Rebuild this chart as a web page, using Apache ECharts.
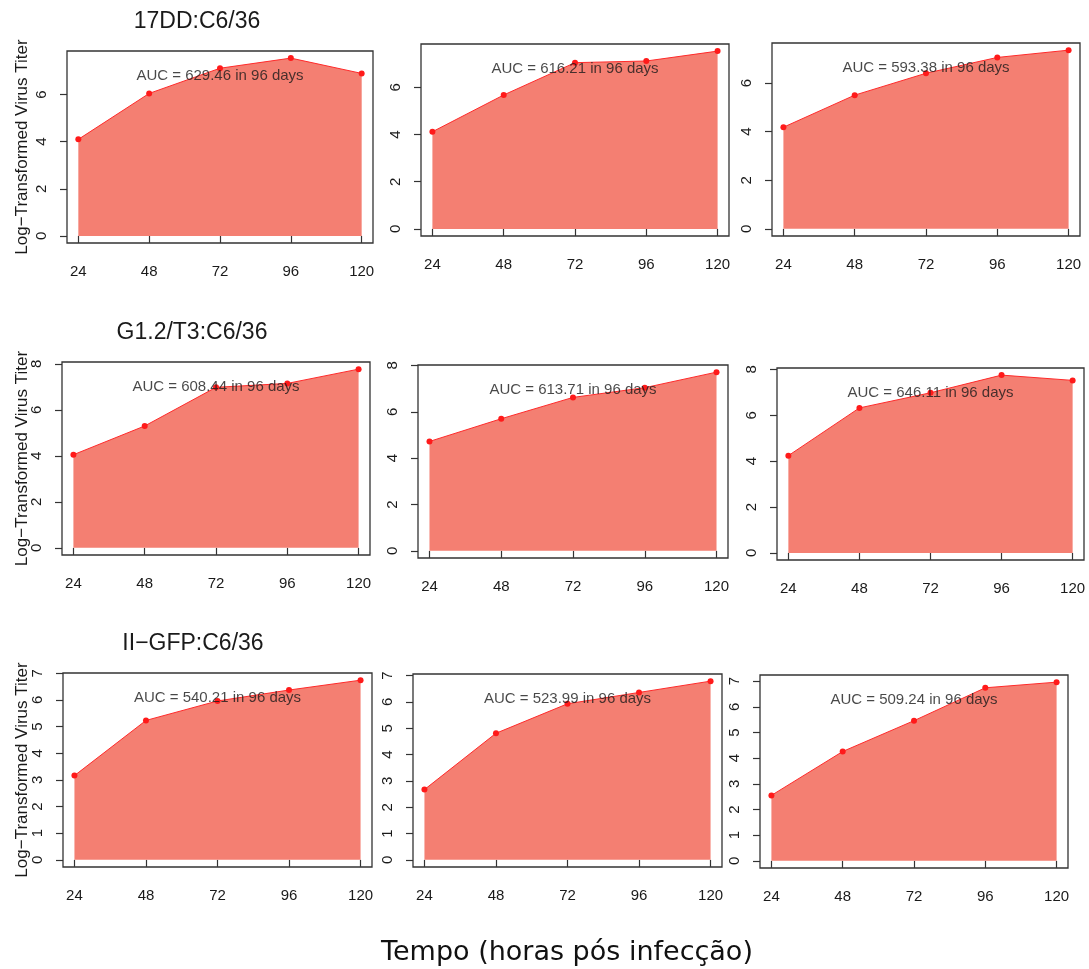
<!DOCTYPE html>
<html>
<head>
<meta charset="utf-8">
<title>Log-Transformed Virus Titer</title>
<script src="https://cdn.jsdelivr.net/npm/echarts@6/dist/echarts.min.js"></script>
<style>
  html, body { margin: 0; padding: 0; background: #ffffff; }
  #chart { width: 1089px; height: 969px; }
</style>
</head>
<body>
<div id="chart"></div>
<script>
// Sampling times (hours post infection)
const hours = [24, 48, 72, 96, 120];

// Row titles (one per virus strain)
const strainTitles = ['17DD:C6/36', 'G1.2/T3:C6/36', 'II\u2212GFP:C6/36'];

// Log-transformed titers, three replicates per strain
const titer17DD_A = [4.10, 6.05, 7.12, 7.55, 6.90];
const titer17DD_B = [4.12, 5.68, 7.05, 7.12, 7.54];
const titer17DD_C = [4.18, 5.50, 6.40, 7.05, 7.35];
const titerG12T3_A = [4.05, 5.30, 6.98, 7.15, 7.77];
const titerG12T3_B = [4.72, 5.70, 6.62, 7.04, 7.71];
const titerG12T3_C = [4.24, 6.32, 6.98, 7.75, 7.52];
const titerIIGFP_A = [3.16, 5.23, 5.96, 6.37, 6.74];
const titerIIGFP_B = [2.67, 4.81, 5.93, 6.36, 6.79];
const titerIIGFP_C = [2.55, 4.26, 5.46, 6.74, 6.96];

// Area-under-curve annotations
const aucLabels = [
  'AUC = 629.46 in 96 days', 'AUC = 616.21 in 96 days', 'AUC = 593.38 in 96 days',
  'AUC = 608.44 in 96 days', 'AUC = 613.71 in 96 days', 'AUC = 646.11 in 96 days',
  'AUC = 540.21 in 96 days', 'AUC = 523.99 in 96 days', 'AUC = 509.24 in 96 days'
];

// Tick values
const xTicks = [24, 48, 72, 96, 120];
const yTicksEven6 = [0, 2, 4, 6];
const yTicksEven8 = [0, 2, 4, 6, 8];
const yTicksUnit7 = [0, 1, 2, 3, 4, 5, 6, 7];

const yAxisTitle = 'Log\u2212Transformed Virus Titer';
const xAxisTitle = 'Tempo (horas pós infecção)';

const panels = [
  { values: titer17DD_A, yTicks: yTicksEven6 },
  { values: titer17DD_B, yTicks: yTicksEven6 },
  { values: titer17DD_C, yTicks: yTicksEven6 },
  { values: titerG12T3_A, yTicks: yTicksEven8 },
  { values: titerG12T3_B, yTicks: yTicksEven8 },
  { values: titerG12T3_C, yTicks: yTicksEven8 },
  { values: titerIIGFP_A, yTicks: yTicksUnit7 },
  { values: titerIIGFP_B, yTicks: yTicksUnit7 },
  { values: titerIIGFP_C, yTicks: yTicksUnit7 }
];

// Plot-box placement for the 3x3 layout
const boxes = [
  { left: 67, top: 51, width: 306, height: 192 },
  { left: 421, top: 44, width: 308, height: 192 },
  { left: 772, top: 43, width: 308, height: 193 },
  { left: 62, top: 362, width: 308, height: 193 },
  { left: 418, top: 365, width: 310, height: 193 },
  { left: 777, top: 368, width: 307, height: 192 },
  { left: 63, top: 673, width: 309, height: 194 },
  { left: 413, top: 674, width: 309, height: 193 },
  { left: 760, top: 675, width: 308, height: 193 }
];
const rowTitlePos = [[197, 22], [192, 333], [193, 644]];

const SANS = '"Liberation Sans", Arial, Helvetica, sans-serif';
const FILL = '#F47F72';
const INK = '#1a1a1a';

const grids = [], xAxes = [], yAxes = [], series = [];

panels.forEach((p, i) => {
  const b = boxes[i];
  grids.push({
    left: b.left, top: b.top, width: b.width, height: b.height,
    show: true, borderColor: '#333', borderWidth: 1.3, backgroundColor: 'transparent'
  });

  // R-style 4% padding around the data range
  const xSpan = hours[hours.length - 1] - hours[0];
  const yMax = Math.max(...p.values);
  xAxes.push({
    type: 'value', gridIndex: i,
    min: hours[0] - 0.04 * xSpan, max: hours[hours.length - 1] + 0.04 * xSpan,
    axisLine: { show: false },
    splitLine: { show: false },
    axisTick: { show: true, inside: false, length: 7, customValues: xTicks,
                lineStyle: { color: '#333', width: 1.2 } },
    axisLabel: { show: true, customValues: xTicks, margin: 21,
                 color: INK, fontFamily: SANS, fontSize: 15 }
  });
  yAxes.push({
    type: 'value', gridIndex: i,
    min: -0.04 * yMax, max: 1.04 * yMax,
    axisLine: { show: false },
    splitLine: { show: false },
    axisTick: { show: true, inside: false, length: 7, customValues: p.yTicks,
                lineStyle: { color: '#333', width: 1.2 } },
    axisLabel: { show: true, customValues: p.yTicks, rotate: 90, margin: 18,
                 color: INK, fontFamily: SANS, fontSize: 15 }
  });

  series.push({
    type: 'line', xAxisIndex: i, yAxisIndex: i,
    data: hours.map((h, k) => [h, p.values[k]]),
    symbol: 'circle', symbolSize: 6,
    itemStyle: { color: '#FF1A1A' },
    lineStyle: { color: '#FF2A2A', width: 1 },
    areaStyle: { color: FILL, opacity: 1, origin: 0 },
    silent: true, animation: false, z: 2
  });

  // AUC note, centred at 72 h and 90% of the peak titer
  series.push({
    type: 'scatter', xAxisIndex: i, yAxisIndex: i,
    data: [[72, 0.9 * yMax]],
    symbolSize: 1, itemStyle: { color: 'rgba(0,0,0,0)' },
    label: {
      show: true, position: 'inside', formatter: aucLabels[i],
      color: INK, fontFamily: SANS, fontSize: 15
    },
    silent: true, animation: false, z: 5
  });
});

const graphics = [];
strainTitles.forEach((t, r) => {
  graphics.push({
    type: 'text', x: rowTitlePos[r][0], y: rowTitlePos[r][1],
    style: { text: t, fill: INK, font: '23px ' + SANS,
             textAlign: 'center', textVerticalAlign: 'middle' }
  });
  const b = boxes[r * 3];
  graphics.push({
    type: 'text', x: 22, y: b.top + b.height / 2, rotation: Math.PI / 2,
    style: { text: yAxisTitle, fill: INK, font: '17px ' + SANS,
             textAlign: 'center', textVerticalAlign: 'middle' }
  });
});
graphics.push({
  type: 'text', x: 567, y: 953,
  style: { text: xAxisTitle, fill: '#111', font: '27px "DejaVu Sans", Verdana, sans-serif',
           textAlign: 'center', textVerticalAlign: 'middle' }
});

const chart = echarts.init(document.getElementById('chart'), null, { renderer: 'canvas' });
chart.setOption({
  backgroundColor: '#ffffff',
  animation: false,
  grid: grids,
  xAxis: xAxes,
  yAxis: yAxes,
  series: series,
  graphic: graphics
});
</script>
</body>
</html>
